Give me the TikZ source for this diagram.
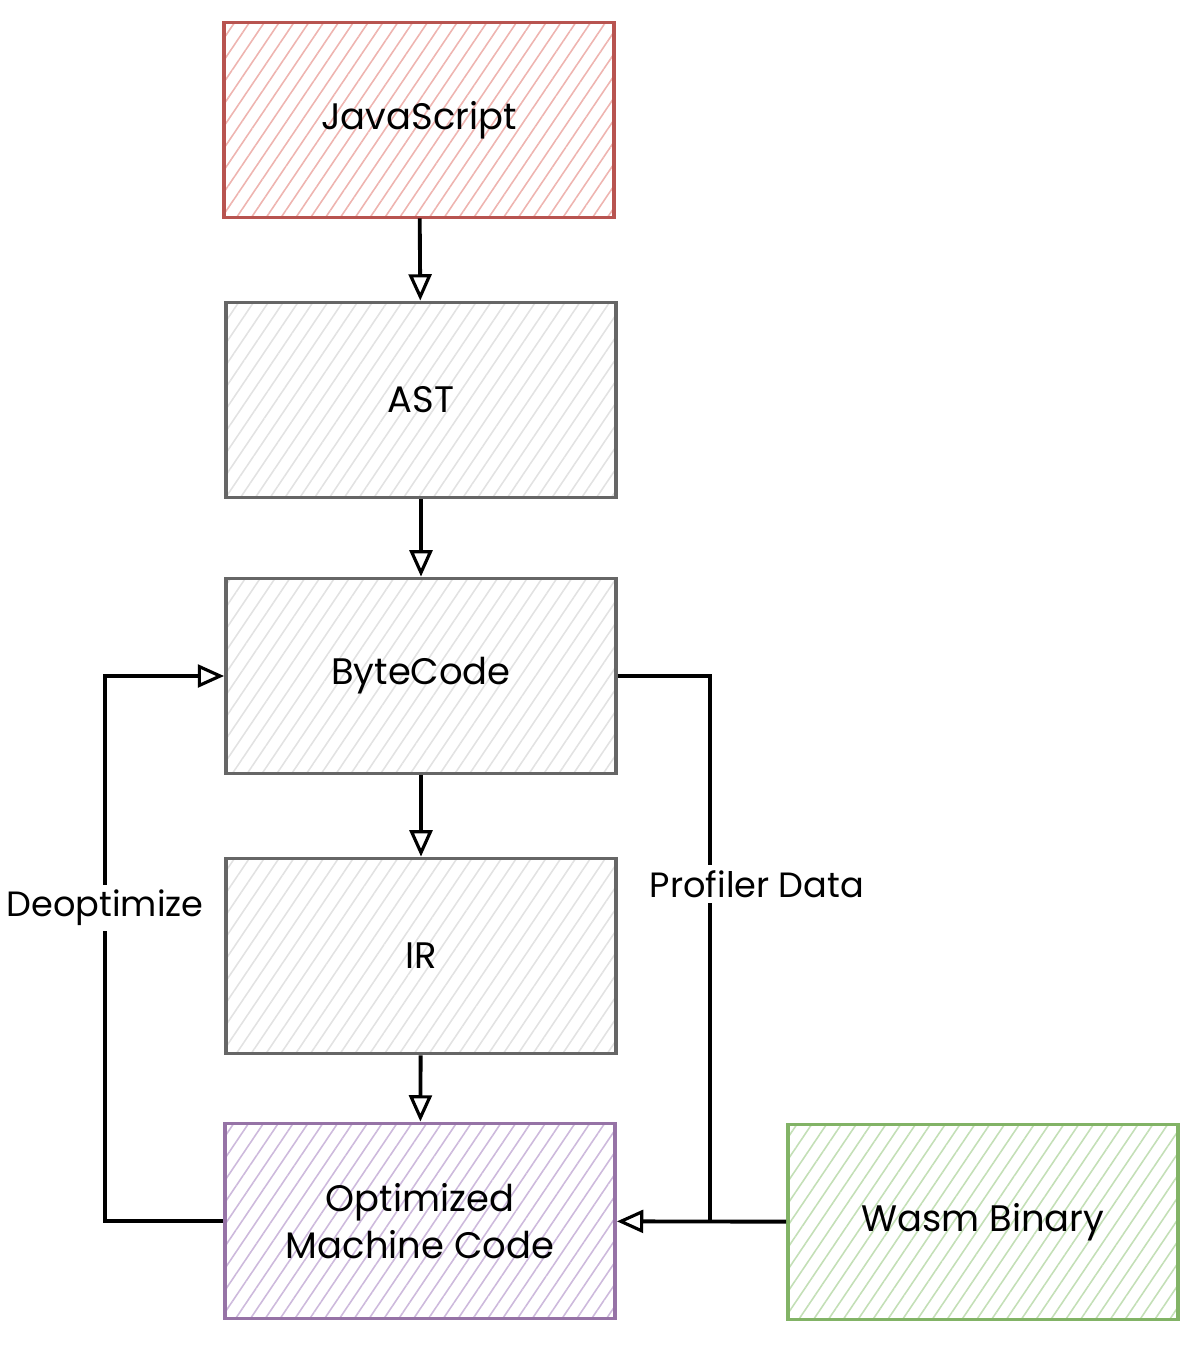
\documentclass[tikz,border=0pt]{standalone}
\usepackage{fontspec}
\setmainfont{Poppins}
\usetikzlibrary{arrows.meta,patterns.meta}

\definecolor{jsline}{HTML}{B85450}
\definecolor{jshatch}{HTML}{EEB4B0}
\definecolor{grayline}{HTML}{666666}
\definecolor{grayhatch}{HTML}{E2E2E2}
\definecolor{optline}{HTML}{9673A6}
\definecolor{opthatch}{HTML}{CDB9DC}
\definecolor{wasmline}{HTML}{82B366}
\definecolor{wasmhatch}{HTML}{C3DFB6}

\tikzset{
  stage/.style={draw=#1line,line width=2.2pt,minimum width=7.8cm,minimum height=3.9cm,
    pattern={Lines[angle=56,distance=7pt,line width=0.9pt]},pattern color=#1hatch,
    font=\fontsize{21}{27}\selectfont,align=center},
  arr/.style={line width=2.2pt,-{Triangle[open,length=15pt,width=13pt,line width=1.8pt]}},
  link/.style={line width=2.2pt},
  tag/.style={fill=white,inner sep=3pt,font=\fontsize{20}{24}\selectfont}
}

\begin{document}
\begin{tikzpicture}[x=0.02cm,y=-0.02cm]
\useasboundingbox (0,0) rectangle (1204,1360);
\node[stage=js](js) at (419,120) {JavaScript};
\node[stage=gray](ast) at (421,400) {AST};
\node[stage=gray](bc) at (421,676) {ByteCode};
\node[stage=gray](ir) at (421,956) {IR};
\node[stage=opt](opt) at (420,1221) {Optimized\\Machine Code};
\node[stage=wasm](wasm) at (983,1222) {Wasm Binary};
\coordinate (pj) at (710,1221);
\coordinate (dl) at (105,1221);
\draw[arr] (js) -- (ast);
\draw[arr] (ast) -- (bc);
\draw[arr] (bc) -- (ir);
\draw[arr] (ir) -- (opt);
\draw[link] (bc.east) -- (bc.east -| pj) -- (pj);
\draw[arr] (wasm) -- (opt);
\draw[arr] (opt.west) -- (dl) |- (bc.west);
\node[tag](prof) at (757,884) {Profiler Data};
\node[tag](deopt) at (105,908) {Deoptimize};
\end{tikzpicture}
\end{document}
